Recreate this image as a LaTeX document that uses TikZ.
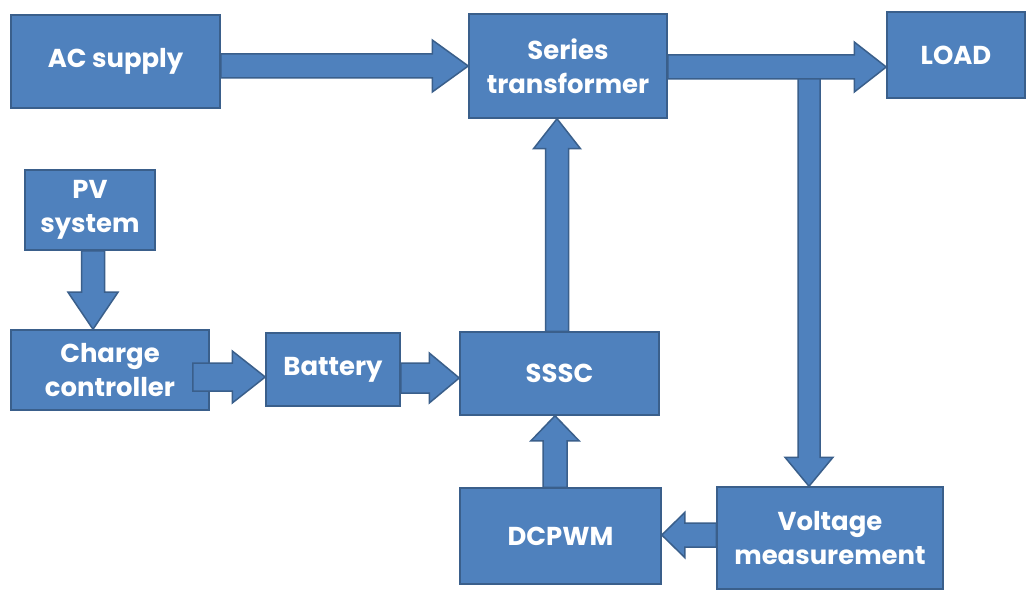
\documentclass[tikz,border=0pt]{standalone}
\usepackage{fontspec}
\setmainfont{Poppins}
\usetikzlibrary{calc}
\definecolor{bfill}{HTML}{4F81BD}
\definecolor{bdr}{HTML}{3A5F8B}
\tikzset{
  box/.style={draw=bdr, fill=bfill, line width=1.5bp, text=white, align=center,
    inner sep=0pt, font=\bfseries\fontsize{26}{34}\selectfont},
  blockarrow/.style={draw=bdr, fill=bfill, line width=1.5bp, line join=miter}
}
% #1 start, #2 tip, #3 shaft half width, #4 head half width, #5 head length
\newcommand{\barrow}[5]{%
  \coordinate (ba-h) at ($(#2)!#5!(#1)$);
  \draw[blockarrow] ($(#1)!#3!90:(#2)$) -- ($(ba-h)!#3!90:(#2)$) -- ($(ba-h)!#4!90:(#2)$)
    -- (#2) -- ($(ba-h)!#4!-90:(#2)$) -- ($(ba-h)!#3!-90:(#2)$) -- ($(#1)!#3!-90:(#2)$) -- cycle;
}
\begin{document}
\begin{tikzpicture}[x=1bp,y=-1bp]
\useasboundingbox[fill=white] (0,0) rectangle (1029,591);
% boxes
\node[box, minimum width=209bp, minimum height=93bp] (ac) at (115.5,61.5) {AC supply};
\node[box, minimum width=198bp, minimum height=104bp] (st) at (568,66) {Series\\transformer};
\node[box, minimum width=138bp, minimum height=86bp] (load) at (956,55) {LOAD};
\node[box, minimum width=130bp, minimum height=80bp] (pv) at (90,210) {PV\\system};
\node[box, minimum width=198bp, minimum height=80bp] (cc) at (110,370) {Charge\\controller};
\node[box, minimum width=134bp, minimum height=73bp] (bat) at (333,369.5) {Battery};
\node[box, minimum width=199bp, minimum height=83bp] (sssc) at (559.5,373.5) {SSSC};
\node[box, minimum width=201bp, minimum height=96bp] (dc) at (560.5,536) {DCPWM};
\node[box, minimum width=226bp, minimum height=102bp] (vm) at (830,538) {Voltage\\measurement};
% connector end points
\coordinate (a1s) at (ac.east |- 0,66);
\coordinate (a1e) at (st.west |- 0,66);
\coordinate (a2s) at (st.east |- 0,67);
\coordinate (a2e) at (load.west |- 0,67);
\coordinate (a3s) at (809,78);
\coordinate (a3e) at (a3s |- vm.north);
\coordinate (a4s) at (sssc.north -| 557,0);
\coordinate (a4e) at (st.south -| 557,0);
\coordinate (a5s) at (pv.south -| 93,0);
\coordinate (a5e) at (cc.north -| 93,0);
\coordinate (a6s) at ($(cc.east |- 0,377)+(-17,0)$);
\coordinate (a6e) at (bat.west |- 0,377);
\coordinate (a7s) at (bat.east |- 0,378);
\coordinate (a7e) at (sssc.west |- 0,378);
\coordinate (a8s) at (dc.north -| 555,0);
\coordinate (a8e) at (sssc.south -| 555,0);
\coordinate (a9s) at (vm.west |- 0,535);
\coordinate (a9e) at (dc.east |- 0,535);
% block arrows
\barrow{a3s}{a3e}{11bp}{24bp}{29bp}
\barrow{a1s}{a1e}{12bp}{26bp}{36bp}
\barrow{a2s}{a2e}{12bp}{25bp}{32bp}
\barrow{a4s}{a4e}{11.5bp}{23.5bp}{30bp}
\barrow{a5s}{a5e}{11.5bp}{25bp}{37bp}
\barrow{a6s}{a6e}{14bp}{26bp}{33bp}
\barrow{a7s}{a7e}{15bp}{25bp}{30bp}
\barrow{a8s}{a8e}{12bp}{24bp}{25bp}
\barrow{a9s}{a9e}{12bp}{22.5bp}{23bp}
\end{tikzpicture}
\end{document}
